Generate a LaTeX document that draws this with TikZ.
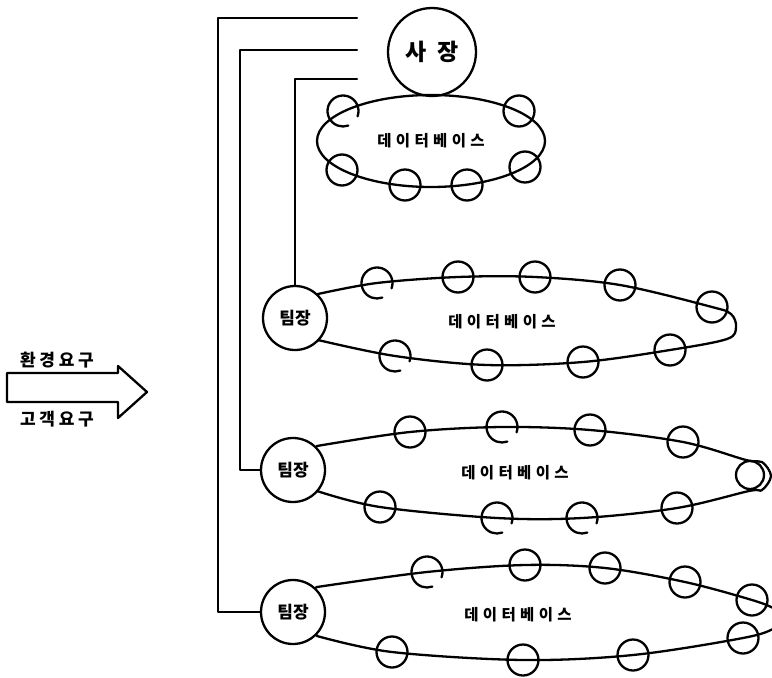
\documentclass[tikz,border=0pt]{standalone}
\usepackage{fontspec}
\newfontfamily\kr{Noto Sans CJK KR}
\newfontfamily\krs{Noto Sans CJK KR}[LetterSpace=22]
\newfontfamily\krdb{Noto Sans CJK KR}[LetterSpace=28]
\usetikzlibrary{shapes.geometric}

\tikzset{
  ln/.style={line width=2.3pt, line join=round, line cap=round},
  seat/.style={circle, draw, line width=2.3pt, minimum size=31pt, inner sep=0pt},
  seatgap/.style={circle, minimum size=31pt, inner sep=0pt},
  lead/.style={circle, draw, line width=2.3pt, minimum size=64pt, inner sep=0pt,
    font=\kr\bfseries\fontsize{17}{17}\selectfont},
  boss/.style={circle, draw, line width=2.3pt, minimum size=88pt, inner sep=0pt,
    font=\kr\bfseries\fontsize{23}{23}\selectfont},
  db/.style={font=\krdb\bfseries\fontsize{15.5}{16}\selectfont},
  req/.style={font=\krs\bfseries\fontsize{17}{17}\selectfont},
}
% seat drawn with a small opening at its lower right
\newcommand\gapseat[1]{\draw[ln] ([shift={(-20:15.5pt)}]#1.center) arc[start angle=-20, end angle=290, radius=15.5pt];}

\begin{document}
\begin{tikzpicture}[x=1pt, y=-1pt]
\useasboundingbox (0,0) rectangle (772,678);
\clip (0,0) rectangle (772,678);

% ---- president and the top table
\node[boss] (pres) at (432,52) {사\hspace{0.5em}장};
\node[ellipse, draw, line width=2.3pt, minimum width=228pt, minimum height=92pt, inner sep=0pt, db] (dbtop) at (431,141) {데이터베이스};
\node[seatgap] (s1) at (343,111) {};
\node[seat] (s2) at (519,111) {};
\node[seat] (s3) at (342,170) {};
\node[seat] (s4) at (525,167) {};
\node[seat] (s5) at (405,185) {};
\node[seat] (s6) at (467,185) {};
\gapseat{s1}

% ---- team leaders
\node[lead] (t1) at (295,318) {팀장};
\node[lead] (t2) at (293,470) {팀장};
\node[lead] (t3) at (293,612) {팀장};

% ---- reporting lines
\coordinate (e1) at (357,18);
\coordinate (e2) at (357,50);
\coordinate (e3) at (357,79);
\draw[ln] (e1) -- (218,18) -- (218,612) -- (t3.west);
\draw[ln] (e2) -- (240,50) -- (240,470) -- (t2.west);
\draw[ln] (e3) -- (295,79) -- (t1.north);

% ---- team 1 table
\node[seatgap] (a11) at (377,283) {};
\node[seat] (a12) at (458,277) {};
\node[seat] (a13) at (535,277) {};
\node[seat] (a14) at (620,285) {};
\node[seat] (a15) at (712,307) {};
\node[seatgap] (b11) at (395,356) {};
\node[seat] (b12) at (487,365) {};
\node[seat] (b13) at (583,362) {};
\node[seat] (b14) at (670,350) {};
\gapseat{a11}\gapseat{b11}
\draw[ln] (t1.47) -- (318,294) plot[smooth, tension=0.55] coordinates {(318,294) (377,283) (458,277) (535,277) (620,285) (712,307) (731,314) (736,327) (727,339) (670,350) (583,362) (487,365) (395,356) (318,340)} -- (t1.-43);
\node[db] (db1) at (502,322) {데이터베이스};

% ---- team 2 table
\node[seat] (a21) at (410,432) {};
\node[seatgap] (a22) at (502,427) {};
\node[seat] (a23) at (590,430) {};
\node[seat] (a24) at (683,442) {};
\node[circle, draw, line width=2.3pt, minimum size=28pt, inner sep=0pt] (r2) at (750,475) {};
\node[seat] (b21) at (380,507) {};
\node[seatgap] (b22) at (497,518) {};
\node[seatgap] (b23) at (582,518) {};
\node[seat] (b24) at (677,508) {};
\gapseat{a22}\gapseat{b22}\gapseat{b23}
\draw[ln] (t2.45) -- (317,446) plot[smooth, tension=0.55] coordinates {(317,446) (410,432) (502,427) (590,430) (683,442) (746,460) (762,462) (771,476) (762,490) (749,491) (677,508) (582,518) (497,518) (380,507) (317,491)} -- (t2.-40);
\node[db] (db2) at (515,473) {데이터베이스};

% ---- team 3 table (runs past the right edge)
\node[seatgap] (a31) at (427,572) {};
\node[seat] (a32) at (525,565) {};
\node[seat] (a33) at (605,568) {};
\node[seat] (a34) at (685,582) {};
\node[seat] (a35) at (752,600) {};
\node[seat] (b31) at (392,652) {};
\node[seat] (b32) at (523,660) {};
\node[seat] (b33) at (633,655) {};
\node[seat] (b34) at (743,638) {};
\gapseat{a31}
\draw[ln] (t3.47) -- (317,587) plot[smooth, tension=0.55] coordinates {(317,587) (427,572) (525,565) (605,568) (685,582) (752,600) (775,609) (786,618) (775,628) (743,638) (633,655) (523,660) (392,652) (317,636)} -- (t3.-44);
\node[db] (db3) at (518,615) {데이터베이스};

% ---- demand arrow
\draw[ln] (7,373) -- (118,373) -- (118,366) -- (147,392) -- (118,418) -- (118,402) -- (7,402) -- cycle;
\node[req] (env) at (57,360) {환경요구};
\node[req] (cust) at (57,419) {고객요구};
\end{tikzpicture}
\end{document}
